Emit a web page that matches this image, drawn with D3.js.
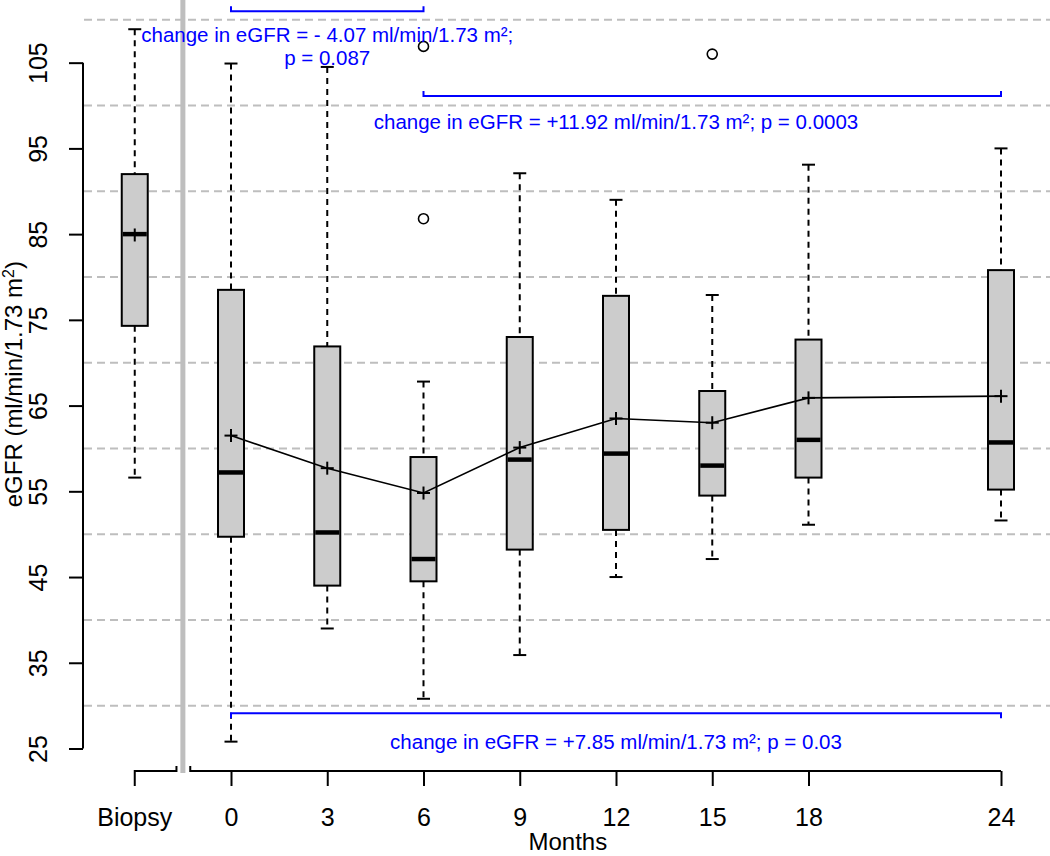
<!DOCTYPE html>
<html>
<head>
<meta charset="utf-8">
<script src="https://cdn.jsdelivr.net/npm/d3@7"></script>
<style>
  html, body { margin: 0; padding: 0; background: #fff; }
  svg { display: block; font-family: "Liberation Sans", Arial, sans-serif; }
</style>
</head>
<body>
<svg id="chart" width="1050" height="856"></svg>
<script>
// ---- data ----
const categories   = ["Biopsy", "0", "3", "6", "9", "12", "15", "18", "24"];
const positions    = [-3, 0, 3, 6, 9, 12, 15, 18, 24];     // months (Biopsy drawn before month 0)
const whiskerLow   = [56.6, 25.8, 39.0, 30.8, 35.9, 45.0, 47.1, 51.1, 51.6];
const quartile1    = [74.3, 49.7, 44.0, 44.5, 48.2, 50.5, 54.5, 56.6, 55.2];
const medians      = [85.0, 57.2, 50.2, 47.1, 58.7, 59.4, 58.0, 61.0, 60.7];
const quartile3    = [92.0, 78.5, 71.9, 59.0, 73.0, 77.8, 66.7, 72.7, 80.8];
const whiskerHigh  = [108.9, 104.9, 104.5, 67.8, 92.1, 89.0, 77.9, 93.1, 95.0];
const means        = [84.9, 61.5, 57.7, 54.8, 60.1, 63.5, 63.0, 65.9, 66.1];
const outlierCats  = ["6", "6", "15"];
const outlierVals  = [106.9, 86.8, 106.0];
const yTicks       = [25, 35, 45, 55, 65, 75, 85, 95, 105];
const gridValues   = [30, 40, 50, 60, 70, 80, 90, 100, 110];
const monthTicks   = [0, 3, 6, 9, 12, 15, 18, 24];

const annotations = [
  { from: 0, to: 6,  level: 111.0, tickDir: -1, lines: ["change in eGFR = - 4.07 ml/min/1.73 m²;", "p = 0.087"], textAt: 3 },
  { from: 6, to: 24, level: 101.1, tickDir: -1, lines: ["change in eGFR = +11.92 ml/min/1.73 m²; p = 0.0003"], textAt: 12 },
  { from: 0, to: 24, level: 29.1,  tickDir: 1,  lines: ["change in eGFR = +7.85 ml/min/1.73 m²; p = 0.03"], textAt: 12 }
];

// ---- scales ----
const svg = d3.select("#chart");
const x = d3.scaleLinear().domain([0, 24]).range([231, 1001]);
const y = d3.scaleLinear().domain([25, 110]).range([748.5, 19.8]);
const boxW = 26, capW = 13;
const blue = "#0000ff";
const fontTick = "25px";

// grid lines
svg.append("g").selectAll("line").data(gridValues).join("line")
  .attr("x1", 84).attr("x2", 1050)
  .attr("y1", d => y(d)).attr("y2", d => y(d))
  .attr("stroke", "#bebebe").attr("stroke-width", 2)
  .attr("stroke-dasharray", "8,5");

// grey separator between biopsy and follow-up
svg.append("line")
  .attr("x1", x(-1.5)).attr("x2", x(-1.5))
  .attr("y1", 0).attr("y2", 773)
  .attr("stroke", "#bebebe").attr("stroke-width", 5);

// y axis
const yAxis = d3.axisLeft(y).tickValues(yTicks).tickSize(14).tickPadding(0).tickFormat(d3.format("d"));
const gy = svg.append("g").attr("transform", "translate(83,0)").call(yAxis);
gy.select(".domain").attr("d", `M0,${y(25)}V${y(105)}`).attr("stroke", "#000").attr("stroke-width", 2);
gy.selectAll(".tick line").attr("stroke", "#000").attr("stroke-width", 2);
gy.selectAll(".tick text")
  .attr("x", 0).attr("dy", null)
  .attr("transform", "translate(-36,0) rotate(-90)")
  .attr("text-anchor", "middle").attr("fill", "#000")
  .style("font-size", fontTick).style("font-family", "Liberation Sans, Arial, sans-serif");

// x axis (follow-up months)
const xAxis = d3.axisBottom(x).tickValues(monthTicks).tickSize(15).tickPadding(0).tickFormat(d => String(d));
const gx = svg.append("g").attr("transform", "translate(0,771)").call(xAxis);
gx.select(".domain").attr("d", `M${x(-1.27)},-5V0H${x(24)}`).attr("stroke", "#000").attr("stroke-width", 2).attr("fill", "none");
gx.selectAll(".tick line").attr("stroke", "#000").attr("stroke-width", 2);
gx.selectAll(".tick text").attr("y", 55).attr("dy", null).attr("fill", "#000")
  .style("font-size", fontTick).style("font-family", "Liberation Sans, Arial, sans-serif");

// biopsy axis segment with break
svg.append("path")
  .attr("d", `M${x(-3)},786V771H${x(-1.7)}V766`)
  .attr("fill", "none").attr("stroke", "#000").attr("stroke-width", 2);
svg.append("text").attr("x", x(-3)).attr("y", 826).attr("text-anchor", "middle")
  .style("font-size", fontTick).text(categories[0]);

// axis titles
svg.append("text").attr("x", x(10.5)).attr("y", 850).attr("text-anchor", "middle")
  .style("font-size", "24px").text("Months");
svg.append("text").attr("transform", `translate(22,${y(67.5)}) rotate(-90)`).attr("text-anchor", "middle")
  .style("font-size", "24px")
  .html('eGFR (ml/min/1.73 m<tspan dy="-8" font-size="16px">2</tspan><tspan dy="8">)</tspan>');

// boxes
const boxes = categories.map((c, i) => ({
  c, pos: positions[i], lo: whiskerLow[i], q1: quartile1[i], med: medians[i],
  q3: quartile3[i], hi: whiskerHigh[i], mean: means[i]
}));
const gb = svg.append("g");
const bg = gb.selectAll("g").data(boxes).join("g");
// whiskers
bg.append("line").attr("x1", d => x(d.pos)).attr("x2", d => x(d.pos))
  .attr("y1", d => y(d.hi)).attr("y2", d => y(d.q3))
  .attr("stroke", "#000").attr("stroke-width", 2).attr("stroke-dasharray", "6,5");
bg.append("line").attr("x1", d => x(d.pos)).attr("x2", d => x(d.pos))
  .attr("y1", d => y(d.q1)).attr("y2", d => y(d.lo))
  .attr("stroke", "#000").attr("stroke-width", 2).attr("stroke-dasharray", "6,5");
// caps
bg.append("line").attr("x1", d => x(d.pos) - capW / 2).attr("x2", d => x(d.pos) + capW / 2)
  .attr("y1", d => y(d.hi)).attr("y2", d => y(d.hi)).attr("stroke", "#000").attr("stroke-width", 2);
bg.append("line").attr("x1", d => x(d.pos) - capW / 2).attr("x2", d => x(d.pos) + capW / 2)
  .attr("y1", d => y(d.lo)).attr("y2", d => y(d.lo)).attr("stroke", "#000").attr("stroke-width", 2);
// box
bg.append("rect").attr("x", d => x(d.pos) - boxW / 2).attr("width", boxW)
  .attr("y", d => y(d.q3)).attr("height", d => y(d.q1) - y(d.q3))
  .attr("fill", "#cccccc").attr("stroke", "#000").attr("stroke-width", 2);
// median
bg.append("line").attr("x1", d => x(d.pos) - boxW / 2 + 1).attr("x2", d => x(d.pos) + boxW / 2 - 1)
  .attr("y1", d => y(d.med)).attr("y2", d => y(d.med)).attr("stroke", "#000").attr("stroke-width", 4.5);

// outliers
svg.append("g").selectAll("circle").data(outlierVals.map((v, i) => ({ c: outlierCats[i], v }))).join("circle")
  .attr("cx", d => x(positions[categories.indexOf(d.c)])).attr("cy", d => y(d.v)).attr("r", 5)
  .attr("fill", "none").attr("stroke", "#000").attr("stroke-width", 1.6);

// mean line (follow-up only)
const meanPts = boxes.filter(d => d.pos >= 0);
svg.append("path").datum(meanPts)
  .attr("d", d3.line().x(d => x(d.pos)).y(d => y(d.mean)))
  .attr("fill", "none").attr("stroke", "#000").attr("stroke-width", 1.6);
// mean crosses
const mc = svg.append("g").selectAll("g").data(boxes).join("g")
  .attr("transform", d => `translate(${x(d.pos)},${y(d.mean)})`);
mc.append("line").attr("x1", -6.5).attr("x2", 6.5).attr("stroke", "#000").attr("stroke-width", 2);
mc.append("line").attr("y1", -6.5).attr("y2", 6.5).attr("stroke", "#000").attr("stroke-width", 2);

// annotations
const ga = svg.append("g");
annotations.forEach(a => {
  const ly = y(a.level);
  const tk = a.tickDir * 5;
  ga.append("path")
    .attr("d", `M${x(a.from)},${ly + tk}V${ly}H${x(a.to)}V${ly + tk}`)
    .attr("fill", "none").attr("stroke", blue).attr("stroke-width", 2);
});
// text positions
const annText = ga.append("g").attr("fill", blue).style("font-size", "20.5px").attr("text-anchor", "middle");
annText.append("text").attr("x", x(annotations[0].textAt)).attr("y", 41.7).text(annotations[0].lines[0]);
annText.append("text").attr("x", x(annotations[0].textAt)).attr("y", 65).text(annotations[0].lines[1]);
annText.append("text").attr("x", x(annotations[1].textAt)).attr("y", 129.3).text(annotations[1].lines[0]);
annText.append("text").attr("x", x(annotations[2].textAt)).attr("y", 749.3).text(annotations[2].lines[0]);
</script>
</body>
</html>
